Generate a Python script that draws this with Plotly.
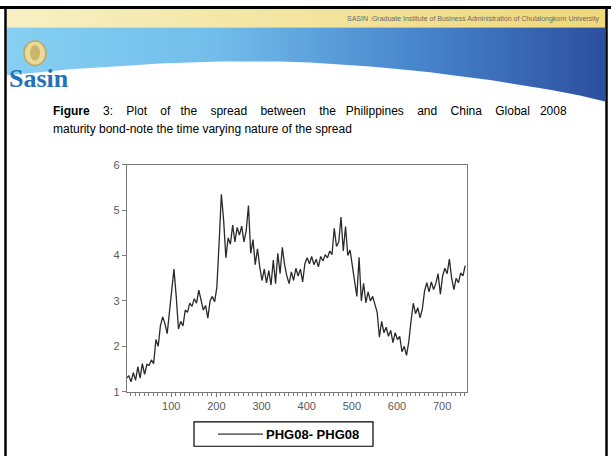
import plotly.graph_objects as go

# ---------------- data ----------------
obs = list(range(1, 756, 5))
phg08 = [
    1.30, 1.35, 1.22, 1.42, 1.25, 1.55, 1.30, 1.62, 1.38, 1.60,
    1.58, 1.70, 1.62, 2.15, 2.00, 2.45, 2.65, 2.50, 2.28, 2.80,
    3.30, 3.70, 3.10, 2.38, 2.55, 2.45, 2.80, 2.75, 2.95, 2.88,
    3.05, 2.95, 3.24, 3.05, 2.80, 2.90, 2.62, 3.00, 3.10, 2.98,
    3.30, 4.28, 5.35, 4.78, 3.95, 4.39, 4.25, 4.67, 4.30, 4.62,
    4.45, 4.65, 4.30, 4.55, 5.10, 4.05, 4.35, 3.80, 4.15, 3.75,
    3.45, 3.70, 3.40, 3.67, 3.35, 3.90, 3.38, 4.05, 3.60, 4.18,
    3.80, 3.55, 3.38, 3.64, 3.45, 3.72, 3.55, 3.70, 3.42, 3.82,
    3.95, 3.82, 3.98, 3.80, 3.92, 3.75, 3.98, 3.88, 4.02, 3.95,
    4.10, 4.02, 4.60, 4.20, 4.30, 4.85, 4.10, 4.64, 4.00, 4.12,
    3.80, 3.40, 3.10, 3.96, 3.00, 3.39, 2.96, 3.20, 3.00, 3.10,
    2.90, 2.75, 2.20, 2.55, 2.30, 2.42, 2.22, 2.35, 2.08, 2.30,
    2.15, 2.22, 1.88, 2.00, 1.80, 2.10, 2.55, 2.95, 2.72, 2.85,
    2.63, 2.82, 3.22, 3.40, 3.20, 3.42, 3.25, 3.38, 3.60, 3.15,
    3.55, 3.72, 3.60, 3.92, 3.50, 3.25, 3.50, 3.40, 3.62, 3.55,
    3.78,
]
y_ticks = [1, 2, 3, 4, 5, 6]
x_ticks = [100, 200, 300, 400, 500, 600, 700]
series_name = "PHG08- PHG08"
caption_words = ["Figure", "3:", "Plot", "of", "the", "spread", "between", "the",
                 "Philippines", "and", "China", "Global", "2008"]
caption_line2 = "maturity bond-note the time varying nature of the spread"
header_text = "SASIN :Graduate Institute of Business Administration of Chulalongkorn University"
logo_text = "Sasin"

W, H = 611, 462
FONT = "Liberation Sans, Arial, sans-serif"
NB = "\u00a0"

# first caption line is justified in the slide: widen its word gaps
wide, narrow = " " + NB * 3, " " + NB * 2
caption_line1 = "<b>%s</b>" % caption_words[0]
for i, w in enumerate(caption_words[1:]):
    caption_line1 += (narrow if i % 4 == 3 else wide) + w

fig = go.Figure()

# ---------------- slide decoration (page-pixel axes x2/y2) ----------------
fig.add_trace(go.Scatter(
    x=[7, 605, 605, 7, 7], y=[3, 3, 22, 22, 3], xaxis="x2", yaxis="y2",
    mode="lines", line=dict(width=0), fill="toself",
    fillgradient=dict(type="horizontal",
                      colorscale=[[0, "#f7f0c4"], [1, "#efd879"]]),
    hoverinfo="skip", showlegend=False))

bx = [7, 605, 605, 580, 550, 520, 490, 460, 430, 400, 370, 340, 310, 280,
      250, 220, 190, 160, 130, 100, 70, 40, 7, 7]
by = [22, 22, 98, 92, 86, 81, 76, 72, 68, 65, 62, 60, 58, 57,
      57, 57, 58, 59, 61, 63, 65, 68, 71, 22]
fig.add_trace(go.Scatter(
    x=bx, y=by, xaxis="x2", yaxis="y2",
    mode="lines", line=dict(width=0), fill="toself",
    fillgradient=dict(type="horizontal",
                      colorscale=[[0, "#86d0f3"], [0.35, "#72bdea"],
                                  [0.7, "#4683cb"], [1, "#2c4f9f"]]),
    hoverinfo="skip", showlegend=False))

# ---------------- the data ----------------
fig.add_trace(go.Scatter(
    x=obs, y=phg08, mode="lines", name=series_name,
    line=dict(color="#2a2a2a", width=1.3), showlegend=False))

shapes = [
    dict(type="rect", xref="x2", yref="y2", x0=0, x1=W, y0=0, y1=3,
         fillcolor="black", line=dict(width=0), layer="above"),
    dict(type="line", xref="x2", yref="y2", x0=5.5, x1=5.5, y0=0, y1=H,
         line=dict(color="black", width=2.5)),
    dict(type="line", xref="x2", yref="y2", x0=606.5, x1=606.5, y0=0, y1=H,
         line=dict(color="black", width=2.5)),
    # medallion
    dict(type="circle", xref="x2", yref="y2", x0=24, x1=46, y0=36, y1=61,
         fillcolor="#e8da9c", line=dict(color="#c2a65a", width=1.5)),
    dict(type="circle", xref="x2", yref="y2", x0=30, x1=40, y0=40, y1=56,
         fillcolor="#cdb56c", line=dict(width=0)),
    # legend box
    dict(type="rect", xref="x2", yref="y2", x0=194, x1=373, y0=427, y1=452,
         fillcolor="white", line=dict(color="black", width=1.2)),
    dict(type="line", xref="x2", yref="y2", x0=218, x1=263, y0=439.5, y1=439.5,
         line=dict(color="black", width=1)),
]

annotations = [
    dict(xref="x2", yref="y2", x=602, y=13, xanchor="right", yanchor="middle",
         text=header_text, showarrow=False,
         font=dict(family=FONT, size=7, color="#6a6a6a")),
    dict(xref="x2", yref="y2", x=7, y=74, xanchor="left", yanchor="middle",
         text="<b>%s</b>" % logo_text, showarrow=False,
         font=dict(family="Liberation Serif, serif", size=26, color="#2672ba")),
    dict(xref="x2", yref="y2", x=51, y=108, xanchor="left", yanchor="middle",
         text=caption_line1, showarrow=False,
         font=dict(family=FONT, size=12, color="black")),
    dict(xref="x2", yref="y2", x=51, y=126, xanchor="left", yanchor="middle",
         text=caption_line2, showarrow=False,
         font=dict(family=FONT, size=12, color="black")),
    dict(xref="x2", yref="y2", x=264, y=439.5, xanchor="left", yanchor="middle",
         text="<b>%s</b>" % series_name, showarrow=False,
         font=dict(family=FONT, size=13, color="black")),
]

axis_common = dict(showgrid=False, zeroline=False, showline=True, mirror=True,
                   linecolor="#7a7a7a", linewidth=1.2, ticks="outside",
                   ticklen=4, tickcolor="#7a7a7a", tickwidth=1,
                   tickfont=dict(family=FONT, size=11, color="#5a5a5a"))

fig.update_layout(
    width=W, height=H, margin=dict(l=0, r=0, t=0, b=0),
    paper_bgcolor="white", plot_bgcolor="rgba(0,0,0,0)",
    showlegend=False,
    xaxis=dict(domain=[127 / W, 467 / W], range=[2, 755],
               tickmode="array", tickvals=x_ticks,
               minor=dict(dtick=10, tick0=0, ticks="outside", ticklen=3,
                          tickcolor="#7a7a7a"),
               anchor="y", **axis_common),
    yaxis=dict(domain=[(H - 396) / H, (H - 163) / H], range=[1, 6],
               tickmode="array", tickvals=y_ticks, anchor="x", **axis_common),
    xaxis2=dict(domain=[0, 1], range=[0, W], visible=False, fixedrange=True,
                anchor="y2"),
    yaxis2=dict(domain=[0, 1], range=[H, 0], visible=False, fixedrange=True,
                anchor="x2"),
    shapes=shapes, annotations=annotations,
)

fig.write_html("out.html")
